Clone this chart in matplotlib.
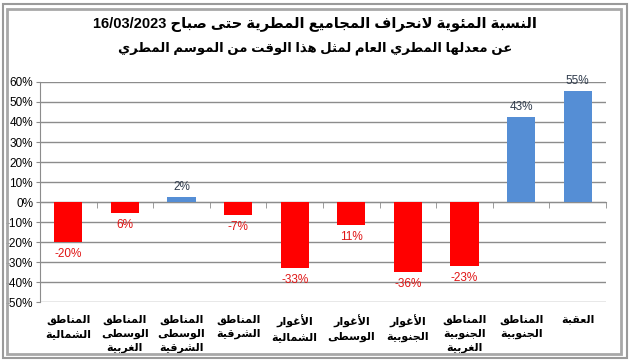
import matplotlib
matplotlib.use('Agg')
import matplotlib.pyplot as plt
from matplotlib.patches import Rectangle
import numpy as np

# data
categories = ['المناطق\nالشمالية', 'المناطق\nالوسطى\nالغربية', 'المناطق\nالوسطى\nالشرقية',
              'المناطق\nالشرقية', 'الأغوار\nالشمالية', 'الأغوار\nالوسطى', 'الأغوار\nالجنوبية',
              'المناطق\nالجنوبية\nالغربية', 'المناطق\nالجنوبية', 'العقبة']
values = [-20, -5.5, 2.5, -6.5, -33, -11.5, -35, -32, 42.5, 55.5]
value_labels = ['-20%', '6%', '2%', '-7%', '-33%', '11%', '-36%', '-23%', '43%', '55%']
title_1 = 'النسبة المئوية لانحراف المجاميع المطرية حتى صباح 16/03/2023'
title_2 = 'عن معدلها المطري العام لمثل هذا الوقت من الموسم المطري'

# matplotlib has no arabic shaping, so map letters to presentation forms by hand
codes = list(range(0x621, 0x63B)) + list(range(0x641, 0x64B))
counts = [1, 2, 2, 2, 2, 4, 2, 4, 2] + [4] * 5 + [2] * 4 + [4] * 8 + [4] * 7 + [2, 2, 4]
FORMS = {}
start = 0xFE80
for c, k in zip(codes, counts):
    FORMS[chr(c)] = (start, k)
    start += k
LAMALEF = {'\u0622': 0xFEF5, '\u0623': 0xFEF7, '\u0625': 0xFEF9, '\u0627': 0xFEFB}


def dual(c):
    return c in FORMS and FORMS[c][1] == 4


def shape(text):
    res = []
    i = 0
    while i < len(text):
        c = text[i]
        if c not in FORMS:
            res.append(c)
            i += 1
            continue
        joins_prev = i > 0 and dual(text[i - 1])
        nxt = text[i + 1] if i + 1 < len(text) else ''
        if c == '\u0644' and nxt in LAMALEF:
            res.append(chr(LAMALEF[nxt] + (1 if joins_prev else 0)))
            i += 2
            continue
        joins_next = dual(c) and nxt in FORMS
        base, k = FORMS[c]
        if k == 1:
            off = 0
        elif joins_prev and joins_next:
            off = 3
        elif joins_prev:
            off = 1
        elif joins_next:
            off = 2
        else:
            off = 0
        res.append(chr(base + off))
        i += 1
    return ''.join(res)


def rtl(text):
    lines = []
    for line in text.split('\n'):
        words = shape(line).split(' ')
        words = [w[::-1] if any(ch >= '\ufe70' for ch in w) else w for w in words]
        lines.append(' '.join(words[::-1]))
    return '\n'.join(lines)


plt.rcParams['font.family'] = ['Liberation Sans', 'DejaVu Sans']

fig = plt.figure(figsize=(6.3, 3.61), dpi=100)
ax = fig.add_axes([0.0635, 0.163, 0.8985, 0.61])

x = np.arange(len(values))
colors = ['#FF0000' if v < 0 else '#558ED5' for v in values]
ax.bar(x, values, width=0.5, color=colors, zorder=3)

for xi, v, lab in zip(x, values, value_labels):
    if v < 0:
        ax.annotate(lab, (xi, v), xytext=(0, -4), textcoords='offset points',
                    ha='center', va='top', fontsize=8.5, color='#E01515')
    else:
        ax.annotate(lab, (xi, v), xytext=(0, 3), textcoords='offset points',
                    ha='center', va='bottom', fontsize=8.5, color='#2F3B4C')

ax.set_xlim(-0.5, len(values) - 0.5)
ax.set_ylim(-50, 60)
ax.set_yticks(np.arange(-50, 61, 10))
ax.set_yticklabels([f'{t}%' for t in range(-50, 61, 10)], fontsize=8.5)
ax.yaxis.grid(True, color='#8C8C8C', linewidth=1)
ax.set_axisbelow(True)
ax.tick_params(axis='y', length=3, color='#8C8C8C', pad=2)

ax.spines['top'].set_visible(False)
ax.spines['right'].set_visible(False)
ax.spines['left'].set_color('#8C8C8C')
ax.spines['bottom'].set_position(('data', 0))
ax.spines['bottom'].set_color('#8C8C8C')

ax.set_xticks(x)
ax.set_xticklabels([rtl(c) for c in categories], fontsize=8, fontweight='bold',
                   linespacing=1.5, va='top')
ax.tick_params(axis='x', which='major', length=0, pad=81)
ax.set_xticks(np.arange(-0.5, len(values), 1), minor=True)
ax.tick_params(axis='x', which='minor', length=4, color='#8C8C8C')

fig.text(0.5, 0.931, rtl(title_1), ha='center', va='center', fontsize=10.5, fontweight='bold')
fig.text(0.5, 0.867, rtl(title_2), ha='center', va='center', fontsize=9.5, fontweight='bold')

# double grey frame around the picture
fig.patches.append(Rectangle((3 / 630, 3 / 361), 624 / 630, 354 / 361, transform=fig.transFigure,
                             fill=False, edgecolor='#9A9A9A', linewidth=1.5))
fig.patches.append(Rectangle((7 / 630, 7 / 361), 614 / 630, 345 / 361, transform=fig.transFigure,
                             fill=False, edgecolor='#A8A8A8', linewidth=2))

fig.savefig('out.png', dpi=100)
